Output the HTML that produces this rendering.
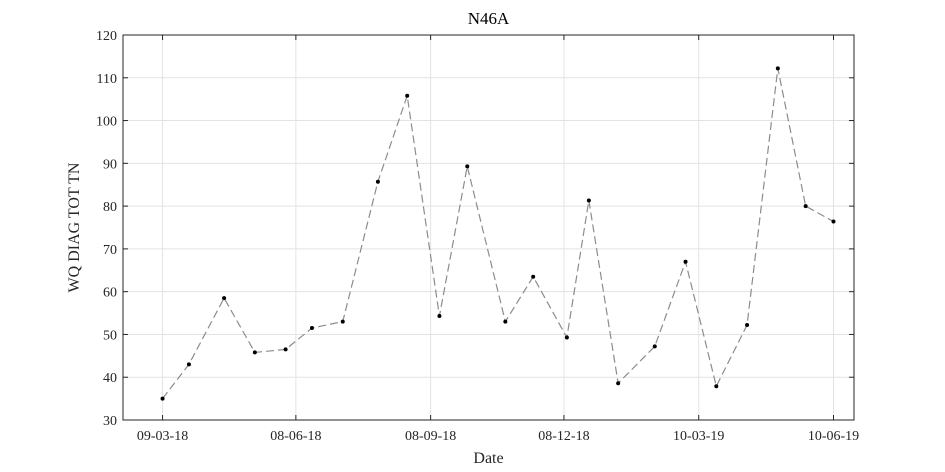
<!DOCTYPE html>
<html><head><meta charset="utf-8"><style>
html,body{margin:0;padding:0;background:#fff;}
svg{display:block;font-family:"Liberation Serif",serif;}
</style></head><body>
<svg id="chart" width="945" height="472"></svg>
<script>
const dates=["2018-03-09","2018-03-27","2018-04-20","2018-05-11","2018-06-01","2018-06-19","2018-07-10","2018-08-03","2018-08-23","2018-09-14","2018-10-03","2018-10-29","2018-11-17","2018-12-10","2018-12-25","2019-01-14","2019-02-08","2019-03-01","2019-03-22","2019-04-12","2019-05-03","2019-05-22","2019-06-10"];
const values=[35,43,58.5,45.8,46.5,51.5,53,85.7,105.8,54.3,89.3,53,63.5,49.3,81.3,38.6,47.2,67,37.9,52.2,112.2,80,76.4];
const xTickDates=["2018-03-09","2018-06-08","2018-09-08","2018-12-08","2019-03-10","2019-06-10"];
const xTickLabels=["09-03-18","08-06-18","08-09-18","08-12-18","10-03-19","10-06-19"];
const yTicks=[30,40,50,60,70,80,90,100,110,120];

const NS="http://www.w3.org/2000/svg";
const svg=document.getElementById('chart');
const L=123,R=854,T=35,B=420;
const t0=Date.parse("2018-02-10"),t1=Date.parse("2019-06-24");
const xs=d=>L+(Date.parse(d)-t0)/(t1-t0)*(R-L);
const ys=v=>B-(v-30)/90*(B-T);
function mk(tag,attrs,parent){const e=document.createElementNS(NS,tag);for(const k in attrs)e.setAttribute(k,attrs[k]);(parent||svg).appendChild(e);return e;}

const grid=mk('g',{});


yTicks.forEach(v=>{
  const y=ys(v);
  const gl=mk('line',{x1:L,x2:R,y1:y,y2:y,stroke:'#e3e3e3','stroke-width':1},grid);
  
  
  const tk=mk('line',{x1:L,x2:L+5,y1:y,y2:y,stroke:'#262626'});
  
  
  const tk2=mk('line',{x1:R,x2:R-5,y1:y,y2:y,stroke:'#262626'});
  
  
  const tx=mk('text',{x:L-6,y:y+5,'text-anchor':'end','font-size':14,fill:'#262626'});
  tx.textContent=v;
  
  
});
xTickDates.forEach((d,i)=>{
  const x=xs(d);
  const gl=mk('line',{x1:x,x2:x,y1:T,y2:B,stroke:'#e3e3e3','stroke-width':1},grid);
  
  
  const tk=mk('line',{x1:x,x2:x,y1:B,y2:B-5,stroke:'#262626'});
  
  
  const tk2=mk('line',{x1:x,x2:x,y1:T,y2:T+5,stroke:'#262626'});
  
  
  const tx=mk('text',{x:x,y:B+20,'text-anchor':'middle','font-size':14,fill:'#262626'});
  tx.textContent=xTickLabels[i];
  
  
});
const frame=mk('rect',{x:L,y:T,width:R-L,height:B-T,fill:'none',stroke:'#262626','stroke-width':1});



const pts=dates.map((d,i)=>xs(d)+','+ys(values[i])).join(' ');
const line=mk('polyline',{points:pts,fill:'none',stroke:'#8c8c8c','stroke-width':1.2,'stroke-dasharray':'8,4'});


dates.forEach((d,i)=>{
  const c=mk('circle',{cx:xs(d),cy:ys(values[i]),r:2,fill:'#000'});
  
  
});

const title=mk('text',{x:(L+R)/2,y:24,'text-anchor':'middle','font-size':17,fill:'#000'});
title.textContent='N46A';


const xt=mk('text',{x:(L+R)/2,y:463,'text-anchor':'middle','font-size':16,fill:'#262626'});
xt.textContent='Date';


const yt=mk('text',{x:0,y:0,'text-anchor':'middle','font-size':16,fill:'#262626',transform:'translate(79,'+((T+B)/2)+') rotate(-90)'});
yt.textContent='WQ DIAG TOT TN';


</script>
</body></html>
